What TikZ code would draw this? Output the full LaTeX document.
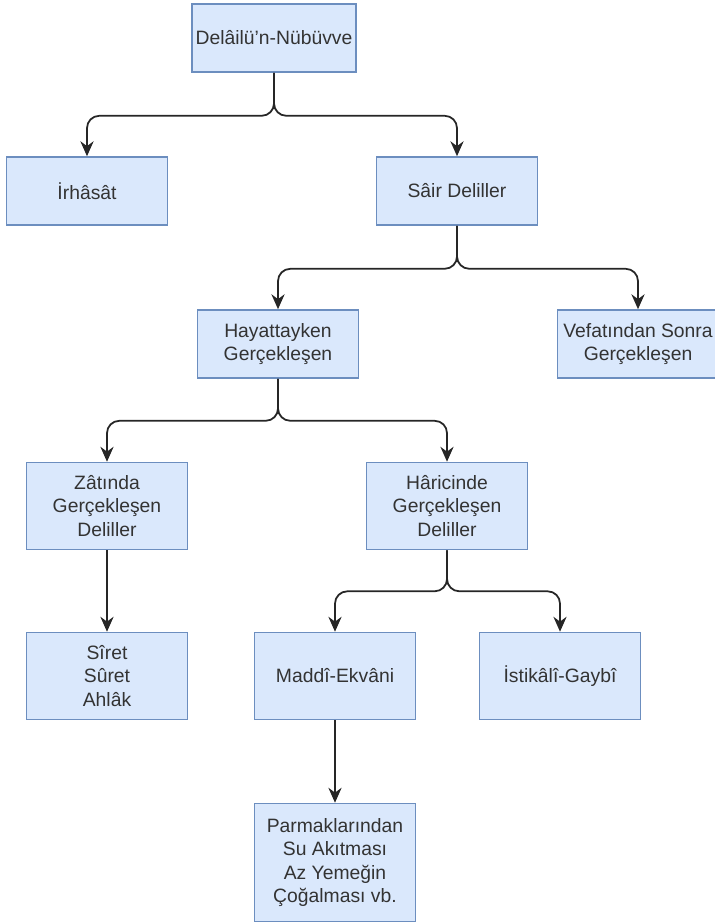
\documentclass[tikz,border=0pt]{standalone}
\usepackage{fontspec}
\setmainfont{Liberation Sans}
\usepackage{tikz}
\usetikzlibrary{arrows.meta}
\usepackage{xcolor}
\definecolor{boxfill}{HTML}{DAE8FC}
\definecolor{boxline}{HTML}{6C8EBF}

\begin{document}
\begin{tikzpicture}[
        kutu/.style={draw=boxline, fill=boxfill, line width=0.9pt, align=center,
            minimum width=3.22cm, minimum height=1.36cm, inner sep=2pt,
            font=\fontsize{11}{13.4}\selectfont, text=black!80},
        uzun/.style={kutu, minimum height=1.74cm},
        bag/.style={draw=black!85, line width=1pt, rounded corners=7pt,
            -{Stealth[length=8.5pt,width=7.5pt]}}
    ]
            \useasboundingbox (0,0) rectangle (14.3,-18.48);
            % ust seviye
            \node[kutu] (kok) at (5.48,-0.76) {Delâilü\symbol{39}n-Nübüvve};
            \node[kutu] (irhasat) at (1.74,-3.82) {İrhâsât};
            \node[kutu] (sair) at (9.14,-3.82) {Sâir Deliller};
            % ikinci seviye
            \node[kutu] (hayat) at (5.56,-6.88) {Hayattayken\\Gerçekleşen};
            \node[kutu] (vefat) at (12.76,-6.88) {Vefatından Sonra\\Gerçekleşen};
            \node[uzun] (zat) at (2.14,-10.12) {Zâtında\\Gerçekleşen\\Deliller};
            \node[uzun] (haric) at (8.94,-10.12) {Hâricinde\\Gerçekleşen\\Deliller};
            % alt seviye
            \node[uzun] (siret) at (2.14,-13.52) {Sîret\\Sûret\\Ahlâk};
            \node[uzun] (maddi) at (6.70,-13.52) {Maddî-Ekvâni};
            \node[uzun] (gaybi) at (11.20,-13.52) {İstikâlî-Gaybî};
            \node[kutu, minimum height=2.36cm] (parmak) at (6.70,-17.25)
                {Parmaklarından\\Su Akıtması\\Az Yemeğin\\Çoğalması vb.};

            \draw[bag] (kok.south) -- ++(0,-0.86) -| (irhasat.north);
            \draw[bag] (kok.south) -- ++(0,-0.86) -| (sair.north);
            \draw[bag] (sair.south) -- ++(0,-0.86) -| (hayat.north);
            \draw[bag] (sair.south) -- ++(0,-0.86) -| (vefat.north);
            \draw[bag] (hayat.south) -- ++(0,-0.84) -| (zat.north);
            \draw[bag] (hayat.south) -- ++(0,-0.84) -| (haric.north);
            \draw[bag] (zat.south) -- (siret.north);
            \draw[bag] (haric.south) -- ++(0,-0.82) -| (maddi.north);
            \draw[bag] (haric.south) -- ++(0,-0.82) -| (gaybi.north);
            \draw[bag] (maddi.south) -- (parmak.north);
\end{tikzpicture}
\end{document}
